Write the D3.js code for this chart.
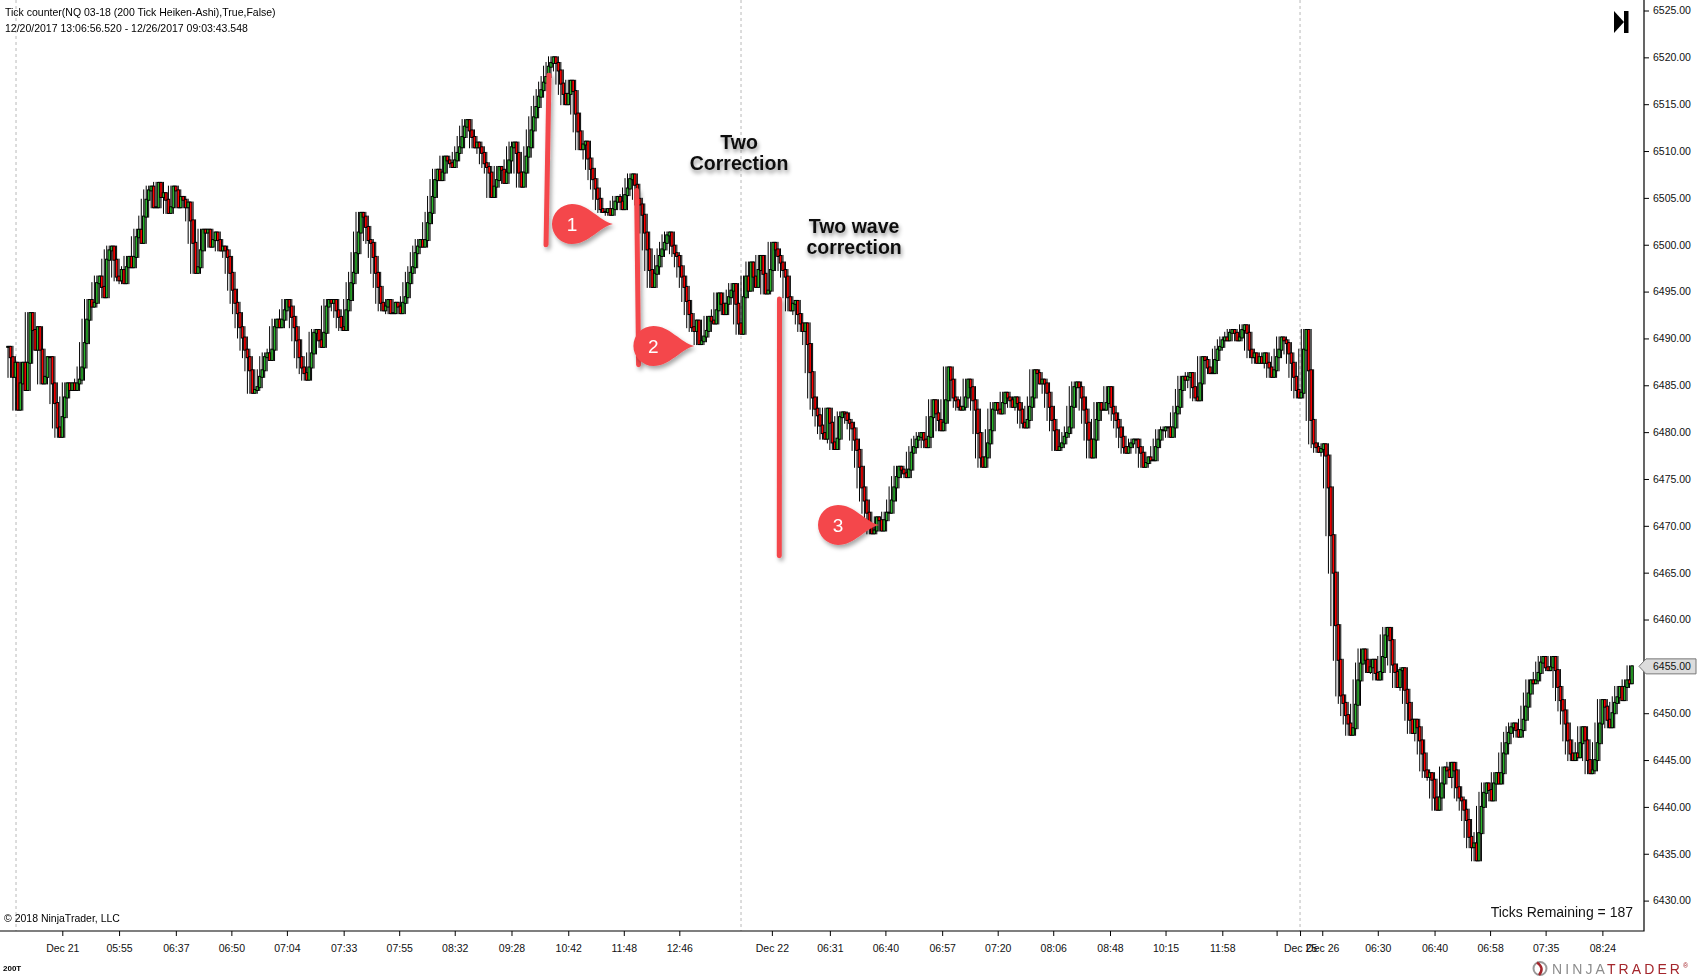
<!DOCTYPE html>
<html>
<head>
<meta charset="utf-8">
<style>
html, body { margin: 0; padding: 0; background: #fff; }
svg { display: block; font-family: "Liberation Sans", Arial, sans-serif; }
</style>
</head>
<body>
<div id="container"></div>
<script src="https://cdn.jsdelivr.net/npm/d3@7/dist/d3.min.js"></script>
<script>

// Chart size and plot edges
const width = 1698;
const height = 978;
const plotRight = 1644;
const plotBottom = 931;

/*** DATA ***/

// Heiken-Ashi closes (left to right)
const closesPart1 = [
  6489.1, 6488.0, 6485.9, 6487.4, 6482.4, 6485.2, 6487.4, 6484.5, 6487.4, 6492.7,
  6490.9, 6488.8, 6491.2, 6488.8, 6485.2, 6485.9, 6488.0, 6488.0, 6485.2,
  6483.1, 6480.5, 6479.5, 6481.6, 6483.7, 6485.2, 6484.5, 6485.2, 6484.5, 6485.2,
  6485.6, 6486.9, 6489.5, 6492.0, 6494.1, 6493.4, 6493.8, 6495.9, 6496.6, 6495.5,
  6494.4, 6498.4, 6499.4, 6499.8, 6498.4, 6496.6, 6496.2, 6497.3, 6495.9, 6497.6,
  6498.7, 6497.6, 6498.7, 6500.8, 6501.6, 6500.2, 6503.0, 6504.8, 6505.8, 6506.2,
  6504.0, 6504.0, 6506.6, 6505.1, 6505.5, 6504.8, 6503.4, 6504.0, 6506.2, 6505.8,
  6504.0, 6505.1, 6504.8, 6504.0, 6504.5, 6502.6, 6500.2, 6497.0, 6497.6, 6499.4,
  6501.6, 6501.3, 6501.6, 6499.8, 6500.5, 6501.3, 6500.5, 6499.4, 6499.8, 6499.4,
  6498.7, 6497.0, 6495.2, 6493.8, 6492.7, 6491.2, 6490.1, 6488.8, 6488.0, 6486.6,
  6484.2, 6484.5, 6484.8, 6485.9, 6486.6, 6488.0, 6488.4, 6487.7, 6488.8,
  6491.2, 6492.0, 6491.2, 6492.0, 6493.0
];
const closesPart2 = [
  6494.1, 6493.4, 6492.3, 6491.2, 6489.8, 6488.0, 6486.9, 6486.3, 6485.6, 6486.9,
  6488.4, 6490.6, 6490.9, 6489.8, 6489.1, 6490.6, 6493.4, 6494.1, 6493.8, 6494.1,
  6493.0, 6492.3, 6491.2, 6490.9, 6493.0, 6494.1, 6495.9, 6497.0, 6499.1, 6501.3,
  6503.4, 6503.0, 6501.9, 6500.5, 6500.2, 6498.7, 6497.0, 6495.5,
  6493.8, 6493.0, 6493.4, 6494.1, 6492.7, 6492.7, 6493.8, 6493.4, 6492.7,
  6493.8, 6494.4, 6495.9, 6497.0, 6497.6, 6499.1, 6499.8, 6500.5, 6499.8, 6500.5,
  6502.3, 6503.4, 6505.1, 6506.9, 6508.0, 6506.9, 6507.7, 6509.4, 6509.0, 6508.7,
  6508.3, 6509.0, 6509.8, 6510.4, 6511.5, 6512.6, 6513.3, 6512.2, 6511.5, 6510.4,
  6510.9, 6510.4, 6509.8, 6508.7, 6508.3, 6507.7, 6505.1, 6506.2, 6506.9,
  6508.3, 6508.0, 6506.6, 6507.7, 6509.0, 6510.4, 6510.9, 6509.8, 6507.7, 6506.2,
  6507.7, 6509.4, 6510.4, 6512.2, 6513.6, 6514.7, 6515.8, 6516.5, 6517.3, 6517.9,
  6519.0, 6519.4, 6520.0, 6519.4, 6518.6
];
const closesPart3 = [
  6517.2, 6516.1, 6515.0, 6516.1, 6517.5, 6516.4, 6514.0, 6512.1, 6510.2, 6510.7,
  6511.0, 6509.2, 6508.1, 6507.0, 6506.0, 6504.9, 6503.8, 6503.5, 6503.5, 6503.8,
  6503.2, 6503.8, 6504.6, 6505.1, 6504.6, 6503.8, 6505.3, 6506.0, 6507.0, 6507.5,
  6506.4, 6504.9, 6504.3, 6503.2, 6501.3, 6499.5, 6497.3, 6495.5, 6496.9, 6497.7,
  6498.8, 6499.5, 6500.2, 6501.0, 6501.3, 6499.9, 6499.1, 6498.8, 6497.7, 6496.6,
  6495.5, 6494.0, 6492.6, 6491.2, 6490.8, 6491.9, 6489.4, 6489.7, 6490.2, 6490.8,
  6492.3, 6491.9, 6491.6, 6493.0, 6494.8, 6493.7, 6492.6, 6493.7, 6494.4, 6495.1,
  6495.8, 6493.7, 6491.6, 6490.5, 6494.4, 6496.6, 6495.1, 6498.1, 6496.6, 6495.5,
  6497.3, 6498.8, 6496.9, 6494.8, 6495.1, 6497.3, 6500.2, 6499.5, 6498.8, 6498.1,
  6497.3, 6496.6, 6494.4, 6493.0, 6493.7, 6494.0, 6492.6, 6491.6, 6490.8, 6491.6,
  6489.4, 6486.4, 6483.7, 6482.5, 6481.8, 6480.7, 6479.9, 6479.3, 6482.5, 6481.0,
  6478.9, 6478.2, 6479.3
];
const closesPart4 = [
  6481.6, 6482.1, 6482.0, 6481.3, 6481.0, 6480.4, 6479.2, 6478.1, 6476.3, 6474.1,
  6472.7, 6471.4, 6469.9, 6469.2, 6469.5, 6470.9, 6470.6, 6469.5, 6470.6, 6471.4,
  6471.4, 6472.7, 6474.1, 6475.2, 6476.3, 6476.0, 6475.6, 6475.2, 6476.0, 6477.8,
  6478.4, 6479.2, 6479.5, 6479.9, 6479.2, 6478.4, 6479.5, 6481.6, 6483.4, 6482.0,
  6481.3, 6480.2, 6481.0, 6483.4, 6486.9, 6485.6, 6483.7, 6483.4, 6482.7, 6482.4,
  6482.7, 6483.7, 6485.6, 6484.8, 6483.4, 6482.4, 6479.9, 6477.3, 6476.3, 6477.3,
  6478.8, 6480.2, 6482.4, 6483.1, 6482.4, 6482.0, 6483.1, 6484.2, 6483.7, 6483.4,
  6482.7, 6483.7, 6483.1, 6482.4, 6481.0, 6480.5, 6481.3, 6482.7, 6483.7, 6486.6,
  6486.3, 6485.2, 6485.6, 6485.2, 6484.2, 6482.7, 6481.3, 6480.2, 6478.1, 6478.4,
  6478.8, 6479.5, 6479.9, 6480.5, 6482.7, 6484.8, 6485.3, 6484.8, 6483.7, 6482.4,
  6481.0, 6479.2, 6477.3, 6479.2, 6481.3, 6483.1, 6482.4, 6482.4, 6483.1, 6484.8,
  6482.7, 6482.0, 6481.3, 6480.5, 6479.5, 6478.4, 6477.8, 6478.4
];
const closesPart5 = [
  6478.8, 6479.2, 6479.2, 6478.4, 6477.8, 6476.3, 6476.7, 6477.3, 6477.0, 6477.0,
  6478.4, 6479.2, 6480.2, 6480.2, 6480.5, 6480.5, 6479.5, 6480.5, 6482.0, 6482.7,
  6484.5, 6485.9, 6485.6, 6485.9, 6486.3, 6484.8, 6483.7, 6483.4, 6485.2, 6488.0,
  6487.7, 6486.9, 6486.3, 6486.3, 6487.7, 6488.8, 6489.1, 6489.8, 6490.1, 6489.8,
  6490.6, 6490.9, 6490.6, 6489.8, 6490.1, 6490.9, 6491.4, 6490.6, 6488.8, 6488.0,
  6488.4, 6487.4, 6488.0, 6487.4, 6488.4, 6487.4, 6486.9, 6485.9, 6486.6, 6488.0,
  6488.8, 6490.1, 6489.8, 6489.5, 6488.4, 6487.4, 6485.9, 6484.5, 6483.7, 6484.2
];
const closesPart6 = [
  6488.8, 6490.9, 6486.6, 6481.3, 6478.8, 6478.4, 6477.9, 6478.2, 6478.7, 6477.5,
  6474.1, 6469.0, 6465.0, 6459.4, 6455.7, 6451.9, 6451.1, 6449.8, 6448.9, 6447.7,
  6448.4, 6450.9, 6453.5, 6455.3, 6456.8, 6455.7, 6454.4, 6454.9, 6455.7, 6454.3,
  6453.6, 6454.4, 6456.0, 6458.3, 6459.1, 6457.8, 6455.2
];
const closesPart7 = [
  6454.4, 6452.8, 6454.6, 6454.8, 6452.5, 6451.1, 6449.3, 6447.9, 6449.3, 6448.5,
  6447.1, 6445.7, 6443.9, 6443.2, 6443.6, 6442.9, 6441.0, 6439.7, 6441.0, 6442.5,
  6444.2, 6443.9, 6443.2, 6444.7, 6443.9, 6442.1, 6441.0, 6440.7, 6439.7, 6438.6,
  6436.8, 6435.7, 6436.1, 6434.3, 6437.2, 6440.0, 6441.5, 6442.5, 6441.8, 6440.7,
  6442.5, 6443.6, 6442.5, 6443.6, 6445.7, 6446.8, 6447.9, 6448.5, 6448.9, 6448.2,
  6447.5, 6448.2, 6449.3, 6450.7, 6452.1, 6453.5, 6453.2, 6453.5, 6454.3, 6455.4,
  6456.0, 6454.9, 6454.6, 6454.9, 6456.0, 6454.6, 6452.8, 6451.4, 6450.3, 6448.9,
  6447.1, 6445.7, 6445.0, 6445.7, 6445.3, 6446.8, 6448.5, 6447.1, 6445.0, 6443.6,
  6443.9, 6445.0, 6446.8, 6448.9, 6451.4, 6450.7, 6449.3, 6448.5, 6450.0, 6451.1,
  6451.7, 6452.8, 6451.4, 6452.8, 6453.5, 6453.2, 6455.0
];

// time axis: bar index of each tick and its label
const tickBars = [22, 45, 68, 90.5, 113, 136, 158.5, 181, 204, 227, 249.5, 272,
  309.5, 333, 355.5, 378.5, 401, 423.5, 446.5, 469, 492, 514, 523.5, 532.5,
  555, 578, 600.5, 623, 646];
const tickLabels = ["Dec 21", "05:55", "06:37", "06:50", "07:04", "07:33", "07:55",
  "08:32", "09:28", "10:42", "11:48", "12:46", "Dec 22", "06:31", "06:40", "06:57",
  "07:20", "08:06", "08:48", "10:15", "11:58", "", "Dec 25", "Dec 26", "06:30",
  "06:40", "06:58", "07:35", "08:24"];

// session breaks (bar index)
const sessionBreaks = [3.25, 297, 523.5];

// price axis ticks
const priceTicks = d3.range(6430, 6526, 5);

// drawn annotations, anchored on bar index / price
const legLines = [
  { bar0: 219.2, p0: 6518.1, bar1: 218.0, p1: 6500.0 },
  { bar0: 254.7, p0: 6505.8, bar1: 255.5, p1: 6487.2 },
  { bar0: 312.6, p0: 6494.2, bar1: 312.5, p1: 6466.8 }
];
const callouts = [
  { label: "1", bar: 228.5, price: 6502.2 },
  { label: "2", bar: 261.5, price: 6489.2 },
  { label: "3", bar: 336.3, price: 6470.1 }
];
const notes = [
  { lines: ["Two", "Correction"], bar: 296.2, price: 6511.0 },
  { lines: ["Two wave", "correction"], bar: 342.8, price: 6502.0 }
];

const closes = [].concat(closesPart1, closesPart2, closesPart3, closesPart4,
  closesPart5, closesPart6, closesPart7);

/*** SCALES ***/

const x = d3.scaleLinear()
    .domain([0, closes.length - 1])
    .range([8, 1632]);

const y = d3.scaleLinear()
    .domain([6430, 6525])
    .range([900.6, 10.5]);

const svg = d3.create("svg")
    .attr("width", width)
    .attr("height", height);

// shadows use the whole canvas as filter region (vertical lines have a zero-width box),
// so they are only put on untransformed groups
const defs = svg.append("defs");
defs.append("filter").attr("id", "shadow")
    .attr("filterUnits", "userSpaceOnUse")
    .attr("x", 0).attr("y", 0).attr("width", width).attr("height", height)
  .append("feDropShadow")
    .attr("dx", 2).attr("dy", 3).attr("stdDeviation", 2)
    .attr("flood-color", "#000").attr("flood-opacity", 0.35);
defs.append("filter").attr("id", "textShadow")
    .attr("filterUnits", "userSpaceOnUse")
    .attr("x", 0).attr("y", 0).attr("width", width).attr("height", height)
  .append("feDropShadow")
    .attr("dx", 1).attr("dy", 3).attr("stdDeviation", 2)
    .attr("flood-color", "#000").attr("flood-opacity", 0.45);

/*** SESSION BREAKS ***/

svg.append("g")
  .selectAll("line")
  .data(sessionBreaks)
  .join("line")
    .attr("x1", d => x(d)).attr("x2", d => x(d))
    .attr("y1", 0).attr("y2", plotBottom)
    .attr("stroke", "#b9b9b9")
    .attr("stroke-dasharray", "3,3");

/*** CANDLES ***/

// open = previous close; wick spans the closes of the two bars on each side
const candles = closes.map((c, i) => {
  const o = i ? closes[i - 1] : c;
  const near = closes.slice(Math.max(0, i - 2), i + 3);
  return { i, o, c, hi: d3.max(near), lo: d3.min(near) };
});

svg.append("g")
  .selectAll("line")
  .data(candles)
  .join("line")
    .attr("x1", d => x(d.i)).attr("x2", d => x(d.i))
    .attr("y1", d => y(d.hi) - 1).attr("y2", d => y(d.lo) + 1)
    .attr("stroke", "#000")
    .attr("stroke-width", 1);

svg.append("g")
  .selectAll("rect")
  .data(candles)
  .join("rect")
    .attr("x", d => x(d.i) - 1.3)
    .attr("width", 2.6)
    .attr("y", d => y(Math.max(d.o, d.c)) - 0.5)
    .attr("height", d => Math.abs(y(d.o) - y(d.c)) + 1)
    .attr("fill", d => d.c >= d.o ? "#2bb52b" : "#ff0000")
    .attr("stroke", "#000")
    .attr("stroke-width", 1);

/*** AXES ***/

// price axis on the right
const yAxis = svg.append("g")
    .attr("transform", `translate(${plotRight},0)`)
    .call(d3.axisRight(y).tickValues(priceTicks).tickFormat(d3.format(".2f")).tickSize(5).tickPadding(4));
yAxis.select(".domain").remove();
yAxis.selectAll("text").attr("font-size", 10.5).attr("font-family", "Liberation Sans, Arial").attr("fill", "#111");
yAxis.selectAll("line").attr("stroke", "#000");

// time axis at the bottom
const xAxis = svg.append("g")
    .attr("transform", `translate(0,${plotBottom})`)
    .call(d3.axisBottom(x).tickValues(tickBars).tickFormat((d, i) => tickLabels[i]).tickSize(5).tickPadding(9));
xAxis.select(".domain").remove();
xAxis.selectAll("text").attr("font-size", 10.5).attr("font-family", "Liberation Sans, Arial").attr("fill", "#111");
xAxis.selectAll("line").attr("stroke", "#000");

// plot frame (bottom + right)
svg.append("path")
    .attr("d", `M0,${plotBottom}H${plotRight}V0`)
    .attr("fill", "none")
    .attr("stroke", "#000")
    .attr("stroke-width", 1.2);

// last price marker
const last = closes[closes.length - 1];
const ly = y(last);
svg.append("path")
    .attr("d", `M${plotRight - 5},${ly}L${plotRight + 2},${ly - 7.5}H1696V${ly + 7.5}H${plotRight + 2}Z`)
    .attr("fill", "#dcdcdc")
    .attr("stroke", "#777");
svg.append("text")
    .attr("x", plotRight + 9)
    .attr("y", ly + 3.8)
    .attr("font-size", 10.5)
    .attr("fill", "#111")
    .text(d3.format(".2f")(last));

/*** ANNOTATIONS ***/

svg.append("g")
    .attr("filter", "url(#shadow)")
  .selectAll("line")
  .data(legLines)
  .join("line")
    .attr("x1", d => x(d.bar0)).attr("y1", d => y(d.p0))
    .attr("x2", d => x(d.bar1)).attr("y2", d => y(d.p1))
    .attr("stroke", "#f4474c")
    .attr("stroke-width", 5)
    .attr("stroke-linecap", "round");

// callout pins: shapes in a shadowed group, numbers on top
svg.append("g")
    .attr("filter", "url(#shadow)")
  .selectAll("path")
  .data(callouts)
  .join("path")
    .attr("transform", d => `translate(${x(d.bar)},${y(d.price)})`)
    .attr("d", "M41,0C27,-3 17,-20 0,-20A20,20 0 0 0 0,20C17,20 27,3 41,0Z")
    .attr("fill", "#f4474c");

svg.append("g")
  .selectAll("text")
  .data(callouts)
  .join("text")
    .attr("x", d => x(d.bar))
    .attr("y", d => y(d.price) + 7)
    .attr("text-anchor", "middle")
    .attr("font-size", 19)
    .attr("fill", "#fff")
    .text(d => d.label);

const note = svg.append("g")
    .attr("filter", "url(#textShadow)")
  .selectAll("text")
  .data(notes)
  .join("text")
    .attr("x", d => x(d.bar))
    .attr("y", d => y(d.price) + 7)
    .attr("text-anchor", "middle")
    .attr("font-size", 19.5)
    .attr("font-weight", "bold")
    .attr("fill", "#111");
note.selectAll("tspan")
  .data(d => d.lines.map((t, k) => ({ t, k, x: x(d.bar) })))
  .join("tspan")
    .attr("x", d => d.x)
    .attr("dy", d => d.k ? 21.5 : 0)
    .text(d => d.t);

/*** CHART TEXT ***/

svg.append("text").attr("x", 5).attr("y", 15.5).attr("font-size", 10.5)
    .text("Tick counter(NQ 03-18 (200 Tick Heiken-Ashi),True,False)");
svg.append("text").attr("x", 5).attr("y", 31.5).attr("font-size", 10.5)
    .text("12/20/2017 13:06:56.520 - 12/26/2017 09:03:43.548");
svg.append("text").attr("x", 4).attr("y", 922).attr("font-size", 10.5)
    .text("\u00a9 2018 NinjaTrader, LLC");
svg.append("text").attr("x", 1633).attr("y", 917).attr("font-size", 14)
    .attr("text-anchor", "end").attr("fill", "#111")
    .text("Ticks Remaining = 187");
svg.append("text").attr("x", 3).attr("y", 971).attr("font-size", 8).attr("font-weight", "bold")
    .text("200T");

// scroll-to-end icon
svg.append("path").attr("d", "M1614,11L1624,22L1614,33Z").attr("fill", "#000");
svg.append("rect").attr("x", 1624).attr("y", 11).attr("width", 4.5).attr("height", 22).attr("fill", "#000");

// NinjaTrader logo
const logo = svg.append("g");
logo.append("circle").attr("cx", 1540).attr("cy", 968.5).attr("r", 6.5)
    .attr("fill", "none").attr("stroke", "#999").attr("stroke-width", 2);
logo.append("path").attr("d", "M1537,962.5Q1545,968 1539,975").attr("fill", "none")
    .attr("stroke", "#a4262c").attr("stroke-width", 2.5);
const logoText = logo.append("text").attr("x", 1552).attr("y", 974)
    .attr("font-size", 14).attr("letter-spacing", 3.1);
logoText.append("tspan").attr("fill", "#8c8c8c").text("NINJA");
logoText.append("tspan").attr("fill", "#a4262c").text("TRADER");
logoText.append("tspan").attr("fill", "#a4262c").attr("font-size", 7).attr("dy", -6).text("\u00ae");

container.append(svg.node());
</script>
</body>
</html>
